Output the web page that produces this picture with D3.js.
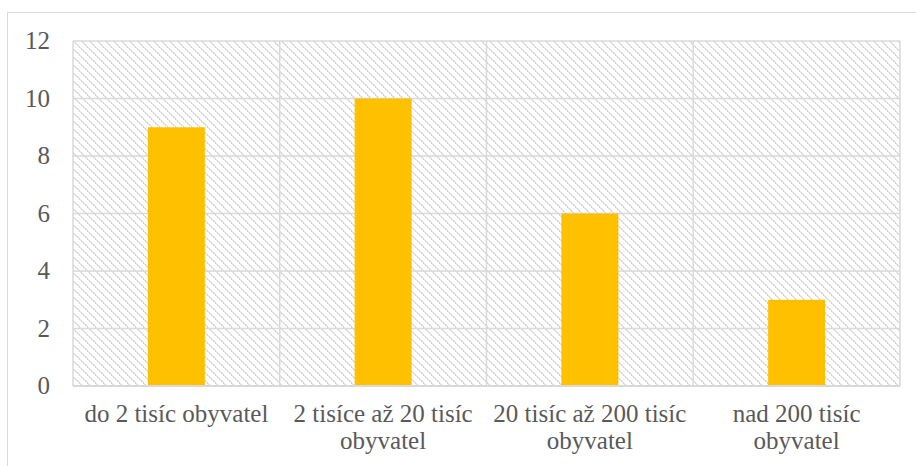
<!DOCTYPE html>
<html><head><meta charset="utf-8">
<script src="https://cdn.jsdelivr.net/npm/d3@7"></script>
<style>body{margin:0;background:#fff}svg{display:block}</style>
</head><body>
<script>
const categories = [["do 2 tisíc obyvatel"], ["2 tisíce až 20 tisíc", "obyvatel"], ["20 tisíc až 200 tisíc", "obyvatel"], ["nad 200 tisíc", "obyvatel"]];
const values = [9, 10, 6, 3];
const yTicks = [0, 2, 4, 6, 8, 10, 12];

const W = 916, H = 466;
const m = {left: 73, right: 16, top: 41, bottom: 82};
const svg = d3.select("body").append("svg").attr("width", W).attr("height", H);

const defs = svg.append("defs");
const pat = defs.append("pattern").attr("id", "hatch").attr("patternUnits", "userSpaceOnUse")
  .attr("width", 8).attr("height", 8);
pat.append("rect").attr("width", 8).attr("height", 8).attr("fill", "#fff");
d3.range(8).forEach(k => {
  pat.append("rect").attr("x", k).attr("y", k).attr("width", 1).attr("height", 1)
    .attr("fill", k % 2 ? "#d4d4d4" : "#e4e4e4").attr("shape-rendering", "crispEdges");
  pat.append("rect").attr("x", (k + 1) % 8).attr("y", k).attr("width", 1).attr("height", 1)
    .attr("fill", k % 2 ? "#e4e4e4" : "#d4d4d4").attr("shape-rendering", "crispEdges");
});

// outer chart border
svg.append("rect").attr("x", 7.5).attr("y", 12.5).attr("width", W).attr("height", H)
  .attr("fill", "none").attr("stroke", "#d9d9d9").attr("stroke-width", 1);

const x = d3.scaleBand().domain(d3.range(categories.length)).range([m.left, W - m.right]).padding(0);
const y = d3.scaleLinear().domain([0, 12]).range([H - m.bottom + 2, m.top]);

svg.append("rect").attr("x", m.left).attr("y", y(12)).attr("width", x.range()[1] - m.left)
  .attr("height", y(0) - y(12)).attr("fill", "url(#hatch)");

const g = svg.append("g");
g.selectAll("line.h").data(yTicks).join("line")
  .attr("x1", m.left).attr("x2", x.range()[1])
  .attr("y1", d => y(d)).attr("y2", d => y(d))
  .attr("stroke", "#d9d9d9").attr("stroke-width", 1.5);
const vx = d3.range(categories.length + 1).map(i => i < categories.length ? x(i) : x.range()[1]);
g.selectAll("line.v").data(vx).join("line")
  .attr("x1", d => d).attr("x2", d => d)
  .attr("y1", y(12)).attr("y2", y(0))
  .attr("stroke", "#d9d9d9").attr("stroke-width", 1.5);

const bw = 57;
svg.selectAll("rect.bar").data(values).join("rect").attr("class", "bar")
  .attr("x", (d, i) => x(i) + x.bandwidth() / 2 - bw / 2)
  .attr("y", d => y(d)).attr("width", bw).attr("height", d => y(0) - y(d))
  .attr("fill", "#ffc000");

svg.append("line").attr("x1", m.left).attr("x2", x.range()[1]).attr("y1", y(0)).attr("y2", y(0))
  .attr("stroke", "#d9d9d9").attr("stroke-width", 2);

const font = "'Liberation Serif', 'DejaVu Serif', serif";
svg.selectAll("text.yt").data(yTicks).join("text")
  .attr("x", 50).attr("y", d => y(d)).attr("dy", "0.33em")
  .attr("text-anchor", "end").attr("font-family", font).attr("font-size", 25)
  .attr("fill", "#595959").text(d => d);

svg.selectAll("text.xl").data(categories).join("text")
  .attr("text-anchor", "middle").attr("font-family", font).attr("font-size", 25)
  .attr("fill", "#595959")
  .each(function(lines, i) {
    const t = d3.select(this);
    lines.forEach((l, j) => t.append("tspan").attr("x", x(i) + x.bandwidth() / 2)
      .attr("y", 422 + j * 27).text(l));
  });
</script>
</body></html>
